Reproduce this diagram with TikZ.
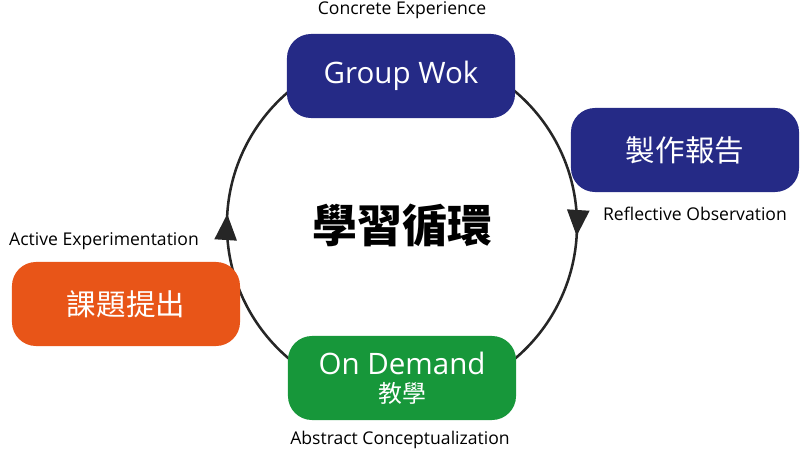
\documentclass[tikz,border=0pt]{standalone}
\usepackage{fontspec}
\setmainfont{Open Sans}
\newfontfamily\cjk{Noto Sans CJK TC}
\usetikzlibrary{positioning,arrows.meta,decorations.markings,calc}
\definecolor{wokblue}{HTML}{252A86}
\definecolor{taskorange}{HTML}{E85518}
\definecolor{demandgreen}{HTML}{17973A}
\tikzset{
  stage/.style={draw=none, rounded corners=0.6cm, minimum width=5.7cm, minimum height=2.1cm,
    text=white, align=center},
  phase/.style={font=\fontsize{12.5}{14}\selectfont, inner sep=1pt},
}
\begin{document}
\begin{tikzpicture}[x=0.025cm,y=-0.025cm]
    \useasboundingbox (0,0) rectangle (800,454);
    \coordinate (hub) at (402,225);
    % the learning loop
    \draw[line width=1.8pt, color=black!85,
      decoration={markings,
        mark=at position 0.01 with {\arrow{Triangle[length=0.65cm,width=0.55cm]}},
        mark=at position 0.51 with {\arrow{Triangle[length=0.65cm,width=0.55cm]}}},
      postaction={decorate}]
      ($(hub)+(175,0)$) arc[start angle=0, end angle=-360, radius=4.375cm];
    \node[font=\cjk\bfseries\fontsize{32}{36}\selectfont] (loop) at (hub) {學習循環};
    \node[stage, fill=wokblue, font=\fontsize{21}{24}\selectfont] (wok) at (401,76) {Group Wok};
    \node[stage, fill=wokblue, font=\cjk\fontsize{21}{24}\selectfont] (report) at (685,150) {製作報告};
    \node[stage, fill=taskorange, font=\cjk\fontsize{21}{24}\selectfont] (task) at (126,304) {課題提出};
    \node[stage, fill=demandgreen, font=\fontsize{21}{22}\selectfont] (demand) at (402,378)
      {On Demand\\[-2pt]{\cjk\fontsize{17}{19}\selectfont 教學}};
    \node[phase] (concrete) at (402,10) {Concrete Experience};
    \node[phase] (reflect) at (695,214) {Reflective Observation};
    \node[phase] (active) at (104,241) {Active Experimentation};
    \node[phase] (abstract) at (400,440) {Abstract Conceptualization};
\end{tikzpicture}
\end{document}
